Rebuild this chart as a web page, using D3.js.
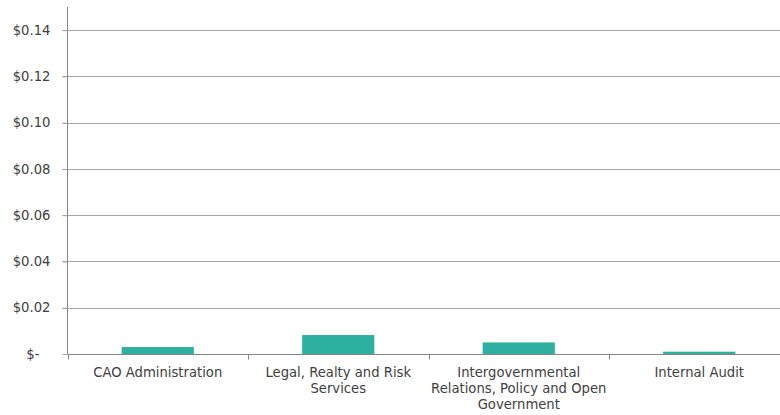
<!DOCTYPE html>
<html><head><meta charset="utf-8">
<script src="https://cdn.jsdelivr.net/npm/d3@7"></script>
<style>
html,body{margin:0;padding:0;background:#fff;}
svg{display:block;font-family:"DejaVu Sans",Verdana,sans-serif;}
</style></head>
<body><svg id="c" width="780" height="415"></svg>
<script>
const categories = ["CAO Administration","Legal, Realty and Risk Services","Intergovernmental Relations, Policy and Open Government","Internal Audit"];
const values = [0.003, 0.0082, 0.005, 0.001];
const yTicks = [0, 0.02, 0.04, 0.06, 0.08, 0.10, 0.12, 0.14];

const svg = d3.select("#c");
const mLeft = 67.5, mTop = 7, mBottom = 354, rightBand = 789.5, gridRight = 780;
const fs = 13.2;

const x = d3.scaleBand().domain(categories).range([mLeft, rightBand]).paddingInner(0.6).paddingOuter(0.3);
const xb = d3.scaleBand().domain(categories).range([mLeft, rightBand]);
const y = d3.scaleLinear().domain([0, 0.15]).range([mBottom, mTop]);

// gridlines
svg.append("g").selectAll("line").data(yTicks.filter(d => d > 0)).join("line")
  .attr("x1", mLeft - 5).attr("x2", gridRight)
  .attr("y1", d => Math.round(y(d)) + 0.5).attr("y2", d => Math.round(y(d)) + 0.5)
  .attr("stroke", "#a6a6a6").attr("stroke-width", 1);

// y axis
const yAxis = d3.axisLeft(y).tickValues(yTicks).tickSize(5).tickPadding(12)
  .tickFormat(d => d === 0 ? "$-" : "$" + d3.format(".2f")(d));
const gy = svg.append("g").attr("transform", `translate(${mLeft},0)`).call(yAxis);
gy.select(".domain").attr("stroke", "#868686").attr("d", `M0,${mTop}V${mBottom}`);
gy.selectAll(".tick line").attr("stroke", "#a6a6a6");
gy.selectAll(".tick text").attr("fill", "#404040").attr("font-size", fs)
  .attr("font-family", "DejaVu Sans, Verdana, sans-serif")
  .attr("dx", d => d === 0 ? -11 : 0);

// bars
svg.append("g").selectAll("rect").data(values).join("rect")
  .attr("x", (d, i) => x(categories[i]))
  .attr("width", x.bandwidth())
  .attr("y", d => y(d))
  .attr("height", d => mBottom - y(d))
  .attr("fill", "#2eb0a0");

// x axis
const gx = svg.append("g").attr("transform", `translate(0,${Math.round(mBottom) + 0.5})`);
gx.append("line").attr("x1", mLeft).attr("x2", gridRight).attr("stroke", "#868686");
const bounds = categories.map(c => xb(c)).concat([rightBand]);
gx.selectAll(".tk").data(bounds).join("line").attr("class", "tk")
  .attr("x1", d => Math.round(d) + 0.5).attr("x2", d => Math.round(d) + 0.5)
  .attr("y1", 0).attr("y2", 5).attr("stroke", "#868686");

// labels with wrapping
const lab = svg.append("g").selectAll("text").data(categories).join("text")
  .attr("x", d => xb(d) + xb.bandwidth() / 2)
  .attr("y", 377)
  .attr("text-anchor", "middle").attr("font-size", fs).attr("fill", "#404040");
lab.each(function(d) {
  const t = d3.select(this);
  const words = d.split(" ");
  const maxW = xb.bandwidth() - 4;
  let line = [], lines = [];
  const probe = t.append("tspan");
  words.forEach(w => {
    const test = line.concat([w]).join(" ");
    probe.text(test);
    if (probe.node().getComputedTextLength() > maxW && line.length) {
      lines.push(line.join(" ")); line = [w];
    } else line.push(w);
  });
  lines.push(line.join(" "));
  probe.remove();
  lines.forEach((l, i) => {
    t.append("tspan").attr("x", xb(d) + xb.bandwidth() / 2).attr("dy", i ? 15.8 : 0).text(l);
  });
});
</script></body></html>
